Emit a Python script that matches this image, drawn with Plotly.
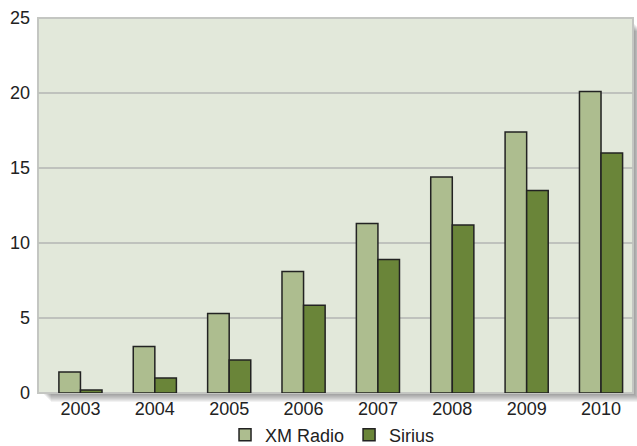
import plotly.graph_objects as go

years = ["2003", "2004", "2005", "2006", "2007", "2008", "2009", "2010"]
xm_radio = [1.4, 3.1, 5.3, 8.1, 11.3, 14.4, 17.4, 20.1]
sirius = [0.2, 1.0, 2.2, 5.85, 8.9, 11.2, 13.5, 16.0]
y_ticks = [0, 5, 10, 15, 20, 25]

W, H = 637, 446
L, R, T, B = 38, 4, 18, 53
pw, ph = W - L - R, H - T - B

fig = go.Figure()
fig.add_trace(go.Bar(x=years, y=xm_radio, name="XM Radio",
                     marker=dict(color="#adbd8f", line=dict(color="#222222", width=1.5))))
fig.add_trace(go.Bar(x=years, y=sirius, name="Sirius",
                     marker=dict(color="#6a8539", line=dict(color="#222222", width=1.5))))

shapes = []
# drop shadow
for k in range(1, 10):
    shapes.append(dict(type="rect", xref="paper", yref="paper", layer="below",
                       x0=(k + 4) / pw, x1=1 + k / pw, y0=-k / ph, y1=1 - (k + 4) / ph,
                       fillcolor="rgba(0,0,0,0.05)", line=dict(width=0)))
shapes.append(dict(type="rect", xref="paper", yref="paper", layer="below",
                   x0=0, x1=1, y0=0, y1=1, fillcolor="#e2e8da",
                   line=dict(color="#c4c6c2", width=2)))

fig.update_layout(
    width=W, height=H,
    margin=dict(l=L, r=R, t=T, b=B, autoexpand=False),
    paper_bgcolor="white",
    plot_bgcolor="rgba(0,0,0,0)",
    barmode="group",
    bargap=0.42,
    bargroupgap=0,
    font=dict(family="Liberation Sans, Arial, sans-serif", size=18, color="#222222"),
    shapes=shapes,
    showlegend=True,
    legend=dict(orientation="h", x=0.495, xanchor="center", y=-0.112, yanchor="middle",
                font=dict(size=18), bgcolor="rgba(0,0,0,0)", itemwidth=30,
                tracegroupgap=0),
    xaxis=dict(type="category", range=[-0.571, 7.43], showgrid=False, showline=False,
               zeroline=False, ticks="", tickfont=dict(size=18), automargin=False,
               ticklabelstandoff=3),
    yaxis=dict(range=[0, 25], tickvals=y_ticks, showgrid=True, gridcolor="#bfc2bd",
               gridwidth=1.5, zeroline=False, showline=False, ticks="", automargin=False,
               ticklabelstandoff=7, tickfont=dict(size=18)),
)

fig.write_html("out.html", config={"displayModeBar": False},
               post_script="document.body.style.margin='0';document.body.style.overflow='hidden';")
